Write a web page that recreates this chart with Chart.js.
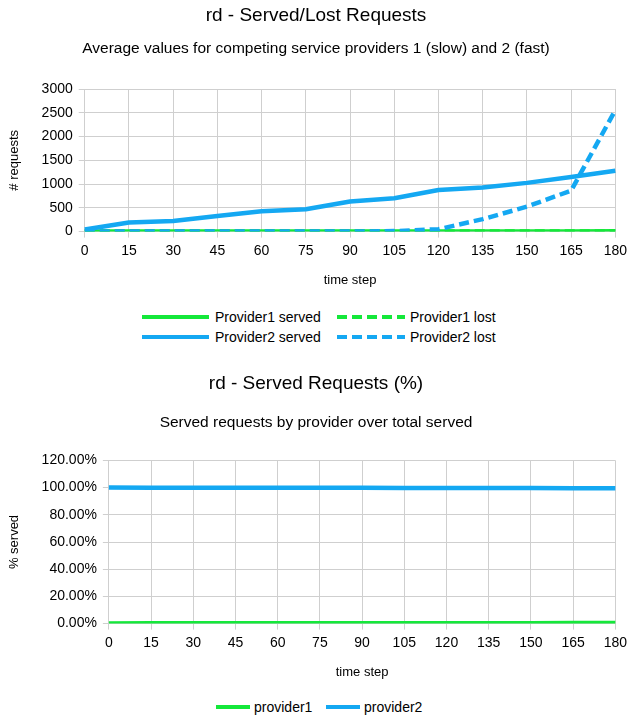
<!DOCTYPE html>
<html>
<head>
<meta charset="utf-8">
<script src="https://cdn.jsdelivr.net/npm/chart.js@4/dist/chart.umd.min.js"></script>
<style>
  html, body { margin: 0; padding: 0; background: #fff; }
  body { width: 632px; height: 717px; position: relative; overflow: hidden;
         font-family: "Liberation Sans", Arial, sans-serif; color: #000; }
  canvas { position: absolute; left: 0; }
  .lg { position: absolute; font-size: 14px; line-height: 16px; white-space: nowrap; }
  svg.ls { position: absolute; }
</style>
</head>
<body>
<canvas id="c1" width="632" height="293" style="top:0px"></canvas>
<canvas id="c2" width="632" height="317" style="top:368px"></canvas>
<div id="legend1"></div>
<div id="legend2"></div>
<script>
// ---- data ----
const timeSteps = [0, 15, 30, 45, 60, 75, 90, 105, 120, 135, 150, 165, 180];
const provider1Served = [0, 1, 1, 1, 2, 2, 2, 3, 3, 3, 4, 4, 5];
const provider1Lost   = [0, 0, 0, 0, 0, 0, 0, 0, 0, 0, 0, 0, 0];
const provider2Served = [45, 190, 225, 330, 430, 470, 635, 700, 875, 930, 1025, 1150, 1278];
const provider2Lost   = [0, 0, 0, 0, 0, 0, 0, 10, 50, 262, 525, 862, 2555];
const provider1Pct = [0.0, 0.2, 0.2, 0.2, 0.2, 0.2, 0.2, 0.3, 0.3, 0.3, 0.3, 0.4, 0.5];
const provider2Pct = [100.0, 99.8, 99.8, 99.8, 99.8, 99.8, 99.8, 99.7, 99.7, 99.7, 99.7, 99.6, 99.5];
const requestTicks = [0, 500, 1000, 1500, 2000, 2500, 3000];
const pctTicks = [0, 20, 40, 60, 80, 100, 120];

const GREEN = '#14e83a';
const BLUE = '#14a8f2';
const GRID = '#cfcfcf';
const FONT = '"Liberation Sans", Arial, sans-serif';
const DASH = [10, 5];

Chart.defaults.font.family = FONT;
Chart.defaults.color = '#000';
Chart.defaults.animation = false;

function xScale() {
  return {
    type: 'category',
    offset: false,
    grid: { color: GRID, lineWidth: 1, tickLength: 6, drawTicks: true },
    border: { color: GRID },
    ticks: { autoSkip: false, maxRotation: 0, padding: 5, font: { size: 14 }, color: '#000' },
    title: { display: true, text: 'time step', font: { size: 13 }, color: '#000', padding: { top: 8, bottom: 5 } }
  };
}

function lineDs(label, data, color, dash, order) {
  return {
    label, data, borderColor: color, backgroundColor: color,
    borderWidth: 4.5, borderDash: dash || [], pointRadius: 0, pointHoverRadius: 0,
    tension: 0, fill: false, order, borderCapStyle: 'butt', borderJoinStyle: 'round'
  };
}

new Chart(document.getElementById('c1'), {
  type: 'line',
  data: {
    labels: timeSteps,
    datasets: [
      lineDs('Provider1 served', provider1Served, GREEN, null, 4),
      lineDs('Provider1 lost', provider1Lost, GREEN, DASH, 3),
      lineDs('Provider2 served', provider2Served, BLUE, null, 2),
      lineDs('Provider2 lost', provider2Lost, BLUE, DASH, 1)
    ]
  },
  options: {
    responsive: false,
    animation: false,
    layout: { padding: 0 },
    plugins: {
      legend: { display: false },
      tooltip: { enabled: false },
      title: { display: true, text: 'rd - Served/Lost Requests', font: { size: 19, weight: 'normal' }, color: '#000', padding: { top: 4, bottom: 0 } },
      subtitle: { display: true, text: 'Average values for competing service providers 1 (slow) and 2 (fast)', font: { size: 15.5, weight: 'normal' }, color: '#000', padding: { top: 13, bottom: 30.6 } }
    },
    scales: {
      x: xScale(),
      y: {
        min: 0, max: 3000,
        afterBuildTicks: (s) => { s.ticks = requestTicks.map(v => ({ value: v })); },
        grid: { color: GRID, lineWidth: 1, tickLength: 6 },
        border: { color: GRID },
        ticks: { padding: 6, font: { size: 14 }, color: '#000', callback: (v) => String(v) },
        title: { display: true, text: '# requests', font: { size: 13 }, color: '#000', padding: { top: 7, bottom: 13 } }
      }
    }
  }
});

new Chart(document.getElementById('c2'), {
  type: 'line',
  data: {
    labels: timeSteps,
    datasets: [
      lineDs('provider1', provider1Pct, GREEN, null, 1),
      lineDs('provider2', provider2Pct, BLUE, null, 2)
    ]
  },
  options: {
    responsive: false,
    animation: false,
    layout: { padding: 0 },
    plugins: {
      legend: { display: false },
      tooltip: { enabled: false },
      title: { display: true, text: 'rd - Served Requests (%)', font: { size: 19, weight: 'normal' }, color: '#000', padding: { top: 4, bottom: 0 } },
      subtitle: { display: true, text: 'Served requests by provider over total served', font: { size: 15.5, weight: 'normal' }, color: '#000', padding: { top: 19, bottom: 28 } }
    },
    scales: {
      x: xScale(),
      y: {
        min: 0, max: 120,
        afterBuildTicks: (s) => { s.ticks = pctTicks.map(v => ({ value: v })); },
        grid: { color: GRID, lineWidth: 1, tickLength: 6 },
        border: { color: GRID },
        ticks: { padding: 6, font: { size: 14 }, color: '#000', callback: (v) => Number(v).toFixed(2) + '%' },
        title: { display: true, text: '% served', font: { size: 13 }, color: '#000', padding: { top: 7, bottom: 13 } }
      }
    }
  }
});

// ---- HTML legends ----
function addItem(parent, x1, x2, cy, color, dashed, textX, text) {
  const svgNS = 'http://www.w3.org/2000/svg';
  const svg = document.createElementNS(svgNS, 'svg');
  svg.setAttribute('class', 'ls');
  svg.setAttribute('width', x2 - x1);
  svg.setAttribute('height', 8);
  svg.style.left = x1 + 'px';
  svg.style.top = (cy - 4) + 'px';
  const ln = document.createElementNS(svgNS, 'line');
  ln.setAttribute('x1', 0); ln.setAttribute('x2', x2 - x1);
  ln.setAttribute('y1', 4); ln.setAttribute('y2', 4);
  ln.setAttribute('stroke', color); ln.setAttribute('stroke-width', 4);
  if (dashed) ln.setAttribute('stroke-dasharray', DASH.join(' '));
  svg.appendChild(ln);
  parent.appendChild(svg);
  const sp = document.createElement('div');
  sp.className = 'lg';
  sp.textContent = text;
  sp.style.left = textX + 'px';
  sp.style.top = (cy - 8) + 'px';
  parent.appendChild(sp);
}
const lg1 = document.getElementById('legend1');
addItem(lg1, 142, 209, 317, GREEN, false, 215, 'Provider1 served');
addItem(lg1, 337, 405, 317, GREEN, true, 410, 'Provider1 lost');
addItem(lg1, 142, 209, 337, BLUE, false, 215, 'Provider2 served');
addItem(lg1, 337, 405, 337, BLUE, true, 410, 'Provider2 lost');
const lg2 = document.getElementById('legend2');
addItem(lg2, 216, 250, 707, GREEN, false, 254, 'provider1');
addItem(lg2, 326, 360, 707, BLUE, false, 364, 'provider2');
</script>
</body>
</html>
